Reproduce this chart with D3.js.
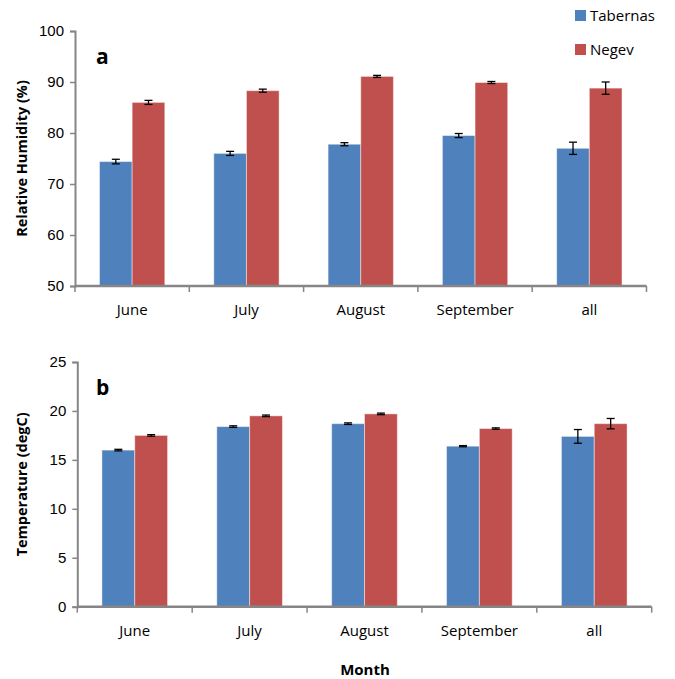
<!DOCTYPE html>
<html>
<head>
<meta charset="utf-8">
<script src="https://cdn.jsdelivr.net/npm/d3@7"></script>
<style>
  body { margin: 0; background: #fff; }
  svg { display: block; font-family: "Open Sans", "Liberation Sans", sans-serif; }
</style>
</head>
<body>
<script>
const months = ["June", "July", "August", "September", "all"];
const series = ["Tabernas", "Negev"];
const colors = ["#4F81BD", "#C0504D"];

// panel a: relative humidity (%)
const humTabernas = [74.4, 76.0, 77.8, 79.5, 77.0];
const humTabernasErr = [0.45, 0.4, 0.3, 0.4, 1.2];
const humNegev = [86.0, 88.3, 91.1, 89.9, 88.8];
const humNegevErr = [0.4, 0.3, 0.2, 0.2, 1.2];
const humTicks = [50, 60, 70, 80, 90, 100];

// panel b: temperature (degC)
const tempTabernas = [16.0, 18.4, 18.7, 16.4, 17.4];
const tempTabernasErr = [0.08, 0.08, 0.08, 0.06, 0.7];
const tempNegev = [17.5, 19.5, 19.7, 18.2, 18.7];
const tempNegevErr = [0.08, 0.08, 0.08, 0.07, 0.53];
const tempTicks = [0, 5, 10, 15, 20, 25];

const svg = d3.select("body").append("svg")
  .attr("width", 675).attr("height", 679);

function panel(opt) {
  const g = svg.append("g");
  const x = d3.scaleBand().domain(months).range([opt.x0, opt.x1]);
  const inner = d3.scaleBand().domain(series)
    .range([0, x.bandwidth()]).paddingInner(0).paddingOuter(0.75);
  const y = d3.scaleLinear().domain(opt.domain).range([opt.yBottom, opt.yTop]);

  const rows = months.map((m, i) => ({
    month: m,
    vals: [
      { s: "Tabernas", v: opt.a[i], e: opt.ae[i] },
      { s: "Negev", v: opt.b[i], e: opt.be[i] }
    ]
  }));

  const grp = g.selectAll(".grp").data(rows).join("g")
    .attr("transform", d => `translate(${x(d.month)},0)`);

  grp.selectAll("rect").data(d => d.vals).join("rect")
    .attr("x", d => inner(d.s))
    .attr("width", inner.bandwidth())
    .attr("y", d => y(d.v))
    .attr("height", d => y(opt.domain[0]) - y(d.v))
    .attr("fill", (d, i) => colors[i])
    .attr("stroke", "rgba(255,255,255,0.45)")
    .attr("stroke-width", 1);

  // error bars
  const eb = grp.selectAll(".eb").data(d => d.vals).join("g")
    .attr("stroke", "#000").attr("stroke-width", 1.3);
  eb.append("line")
    .attr("x1", d => inner(d.s) + inner.bandwidth() / 2)
    .attr("x2", d => inner(d.s) + inner.bandwidth() / 2)
    .attr("y1", d => y(d.v - d.e)).attr("y2", d => y(d.v + d.e));
  eb.append("line")
    .attr("x1", d => inner(d.s) + inner.bandwidth() / 2 - 4)
    .attr("x2", d => inner(d.s) + inner.bandwidth() / 2 + 4)
    .attr("y1", d => y(d.v - d.e)).attr("y2", d => y(d.v - d.e));
  eb.append("line")
    .attr("x1", d => inner(d.s) + inner.bandwidth() / 2 - 4)
    .attr("x2", d => inner(d.s) + inner.bandwidth() / 2 + 4)
    .attr("y1", d => y(d.v + d.e)).attr("y2", d => y(d.v + d.e));

  // y axis
  const ya = g.append("g").attr("transform", `translate(${opt.x0},0)`)
    .call(d3.axisLeft(y).tickValues(opt.ticks).tickSize(5).tickPadding(6));
  ya.select(".domain").attr("stroke", "#868686").attr("stroke-width", 2);
  ya.selectAll(".tick line").attr("stroke", "#868686").attr("stroke-width", 1.5);
  ya.selectAll("text").attr("font-size", 15).attr("fill", "#000");

  // x axis line with ticks at category boundaries
  g.append("line")
    .attr("x1", opt.x0).attr("x2", opt.x1)
    .attr("y1", opt.yBottom).attr("y2", opt.yBottom)
    .attr("stroke", "#868686").attr("stroke-width", 2.5);
  const bounds = months.map(m => x(m)).concat([opt.x1]);
  g.selectAll(".xt").data(bounds).join("line")
    .attr("x1", d => d).attr("x2", d => d)
    .attr("y1", opt.yBottom).attr("y2", opt.yBottom + 6)
    .attr("stroke", "#868686").attr("stroke-width", 1.5);
  g.selectAll(".xl").data(months).join("text")
    .attr("x", d => x(d) + x.bandwidth() / 2)
    .attr("y", opt.yBottom + 29)
    .attr("text-anchor", "middle")
    .attr("font-size", 15)
    .text(d => d);

  // y title
  g.append("text")
    .attr("transform", `translate(27,${(opt.yTop + opt.yBottom) / 2}) rotate(-90)`)
    .attr("text-anchor", "middle")
    .attr("font-size", 14.5).attr("font-weight", "bold")
    .text(opt.title);

  // panel letter
  g.append("text")
    .attr("x", 96).attr("y", opt.yTop + 33)
    .attr("font-size", 21).attr("font-weight", "bold")
    .text(opt.letter);
}

panel({
  x0: 75, x1: 646.5, yTop: 31, yBottom: 286, domain: [50, 100], ticks: humTicks,
  a: humTabernas, ae: humTabernasErr, b: humNegev, be: humNegevErr,
  title: "Relative Humidity (%)", letter: "a"
});

panel({
  x0: 77.3, x1: 651.7, yTop: 362, yBottom: 606.7, domain: [0, 25], ticks: tempTicks,
  a: tempTabernas, ae: tempTabernasErr, b: tempNegev, be: tempNegevErr,
  title: "Temperature (degC)", letter: "b"
});

// x title
svg.append("text")
  .attr("x", 365).attr("y", 675)
  .attr("text-anchor", "middle")
  .attr("font-size", 15).attr("font-weight", "bold")
  .text("Month");

// legend
const leg = svg.append("g");
series.forEach((s, i) => {
  leg.append("rect")
    .attr("x", 575).attr("y", 10 + i * 34).attr("width", 11).attr("height", 11)
    .attr("fill", colors[i]);
  leg.append("text")
    .attr("x", 590).attr("y", 21 + i * 34)
    .attr("font-size", 15)
    .text(s);
});
</script>
</body>
</html>
